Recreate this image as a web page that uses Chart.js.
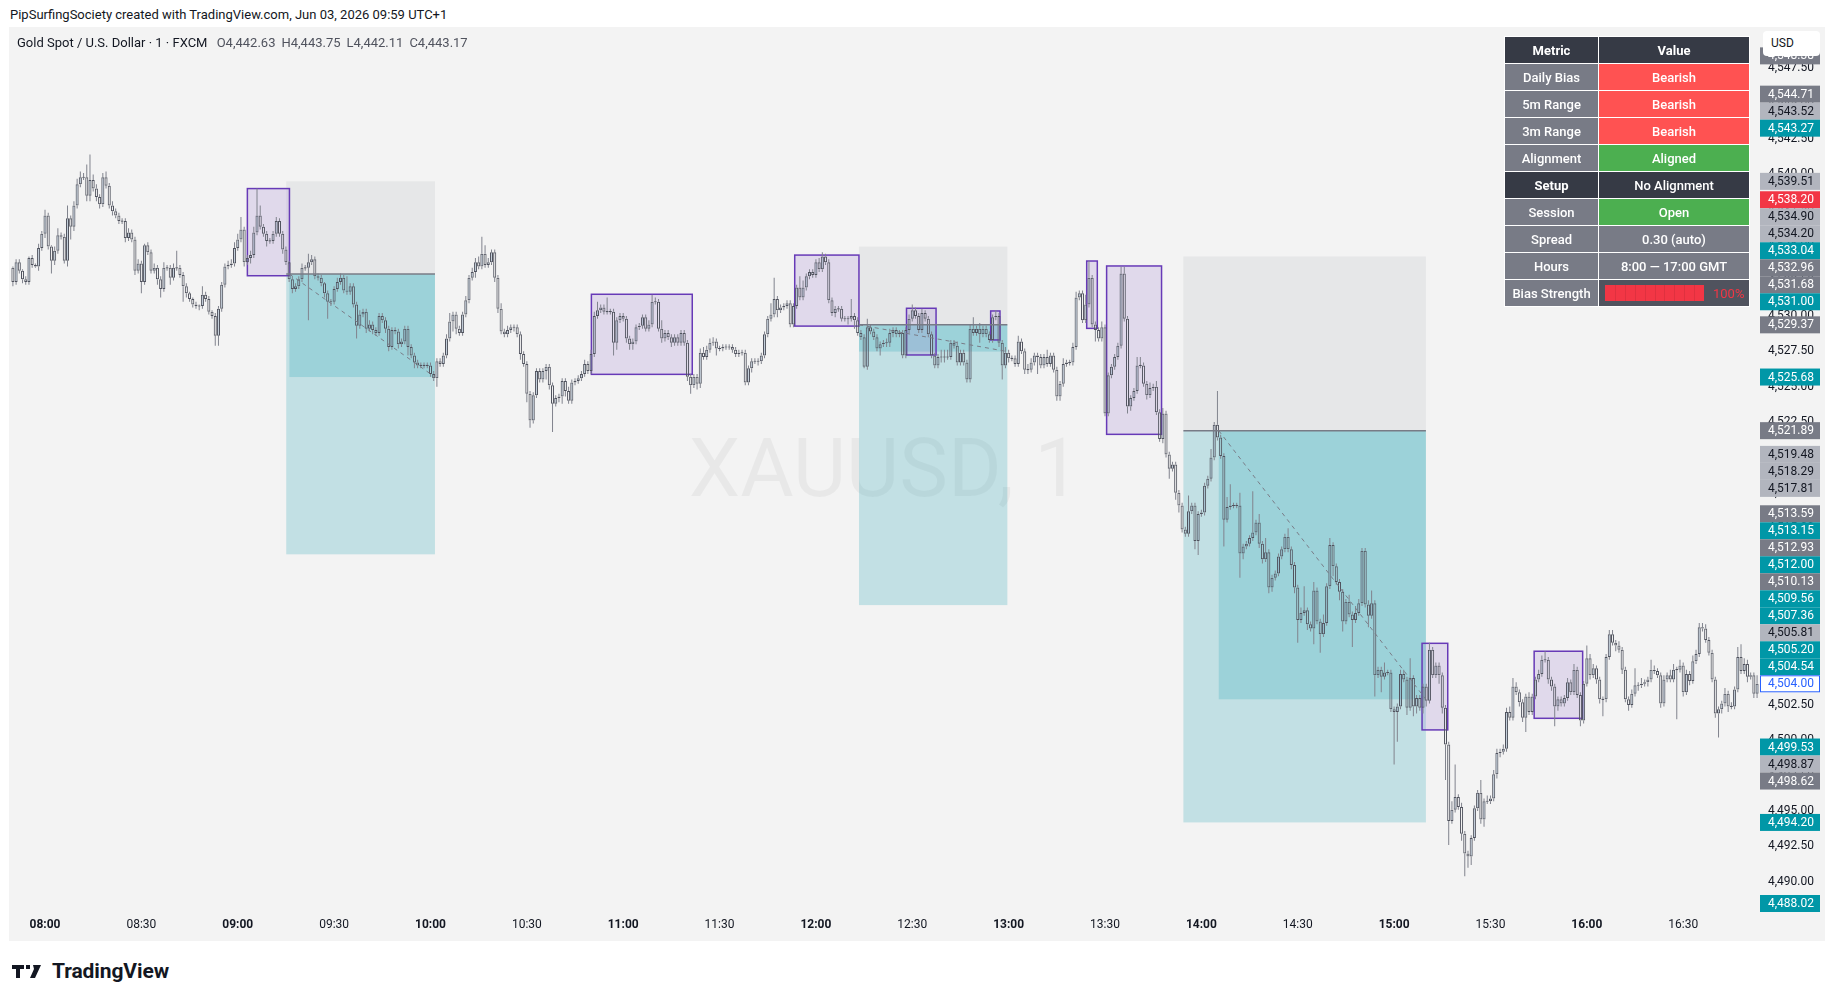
<!DOCTYPE html>
<html>
<head>
<meta charset="utf-8">
<title>XAUUSD 1m</title>
<script src="https://cdn.jsdelivr.net/npm/chart.js@4.4.1/dist/chart.umd.min.js"></script>
<style>
  body { margin: 0; width: 1835px; height: 1000px; background: #fff; position: relative; overflow: hidden;
         font-family: Roboto, "Noto Sans", "DejaVu Sans", sans-serif; color: #131722; }
  #top { position: absolute; left: 10px; top: 6px; font-size: 13px; line-height: 18px; }
  #panel { position: absolute; left: 9px; top: 27px; width: 1816px; height: 914px; background: #f3f3f3; }
  #mark { position: absolute; left: 1px; width: 1749px; top: 398px; text-align: center; font-size: 82px;
          line-height: 86px; color: rgba(0,0,0,0.045); white-space: nowrap; }
  #chart { position: absolute; left: 0; top: 0; }
  #sym { position: absolute; left: 8px; top: 7px; font-size: 13px; line-height: 18px; }
  #sym .v { color: #50535e; margin-left: 6px; }
  #usd { position: absolute; left: 1763px; top: 31px; width: 57px; height: 25px; background: #fff;
         border-radius: 4px; font-size: 12px; line-height: 25px; text-indent: 8px; }
  #tbl { position: absolute; left: 1504px; top: 36px; border-collapse: collapse; font-size: 13px; }
  #tbl th, #tbl td { border: 1px solid #fff; height: 26px; padding: 0; text-align: center; color: #fff; font-weight: 500; }
  #tbl th { background: #363a45; font-weight: bold; }
  #tbl td.k { background: #787b86; width: 93px; }
  #tbl td.g { background: #787b86; width: 150px; }
  #tbl td.bear { background: #ff5252; }
  #tbl td.ok { background: #4caf50; }
  #tbl td.dk { background: #363a45; }
  #tbl td.bs { background: #50535e; text-align: left; }
  .bar { display: inline-block; vertical-align: middle; margin-left: 6px; width: 99px; height: 16px; background: #f23645; position: relative; }
  .bar i { position: absolute; top: 0; bottom: 0; width: 1px; background: rgba(0,0,0,0.08); }
  .pct { display: inline-block; vertical-align: middle; margin-left: 9px; color: #f23645; font-weight: normal; }
  #logo { position: absolute; left: 12px; top: 960px; height: 22px; display: flex; align-items: center; }
  #logo span { font-size: 21px; font-weight: bold; margin-left: 10px; letter-spacing: -0.1px; }
</style>
</head>
<body>
<div id="top">PipSurfingSociety created with TradingView.com, Jun 03, 2026 09:59 UTC+1</div>
<div id="panel">
  <div id="mark">XAUUSD, 1</div>
  <canvas id="chart" width="1816" height="914"></canvas>
  <div id="sym">Gold Spot / U.S. Dollar · 1 · FXCM <span class="v">O4,442.63</span><span class="v">H4,443.75</span><span class="v">L4,442.11</span><span class="v">C4,443.17</span></div>
</div>
<div id="usd">USD</div>
<table id="tbl">
  <tr><th>Metric</th><th>Value</th></tr>
  <tr><td class="k">Daily Bias</td><td class="bear">Bearish</td></tr>
  <tr><td class="k">5m Range</td><td class="bear">Bearish</td></tr>
  <tr><td class="k">3m Range</td><td class="bear">Bearish</td></tr>
  <tr><td class="k">Alignment</td><td class="ok">Aligned</td></tr>
  <tr><th>Setup</th><td class="dk">No Alignment</td></tr>
  <tr><td class="k">Session</td><td class="ok">Open</td></tr>
  <tr><td class="k">Spread</td><td class="g">0.30 (auto)</td></tr>
  <tr><td class="k">Hours</td><td class="g">8:00 — 17:00 GMT</td></tr>
  <tr><td class="k">Bias Strength</td><td class="bs"><span class="bar" id="bsbar"></span><span class="pct">100%</span></td></tr>
</table>
<div id="logo">
  <svg width="30" height="13" viewBox="0 0 30 13"><path d="M0 0h12v4H8v9H4V4H0z M14 0h4v4h-4z M21 0h8l-6 13h-5l4-9z" fill="#131722"/></svg>
  <span>TradingView</span>
</div>

<script>
// one-minute candles, minutes counted from 08:00
const firstMinute = -10;
const firstOpen = 4533.4;

const closes = [
  // 07:50 - 09:18
  4532.4, 4533.8, 4533.2, 4532.6, 4532.4, 4534.1, 4533.6, 4533.5, 4534.8, 4535.8,
  4537.1, 4534.9, 4533.9, 4534.6, 4535.7, 4535.6, 4533.9, 4536.9, 4536.3, 4537.8,
  4539.3, 4539.8, 4539.8, 4538.5, 4539.6, 4539.0, 4538.4, 4537.9, 4539.8, 4539.2,
  4537.8, 4537.4, 4537.1, 4536.7, 4536.7, 4535.5, 4535.9, 4535.4, 4533.2, 4533.7,
  4532.4, 4535.0, 4534.5, 4533.2, 4533.4, 4532.6, 4531.9, 4533.4, 4533.4, 4532.7,
  4533.4, 4533.4, 4532.9, 4532.1, 4531.6, 4531.2, 4530.8, 4530.7, 4530.7, 4531.5,
  4531.2, 4530.3, 4530.0, 4528.6, 4530.5, 4532.2, 4533.5, 4533.6, 4533.7, 4534.8,
  4535.4, 4536.1, 4533.8, 4534.1, 4534.3, 4535.9, 4537.1, 4536.3, 4535.8, 4535.3,
  4535.3, 4535.8, 4536.7, 4535.8, 4534.7, 4533.8, 4532.6, 4531.9, 4532.1,
  // 09:19 - 10:52
  4532.6, 4533.4, 4533.4, 4533.8, 4534.0, 4532.8, 4532.7, 4532.3, 4531.6, 4531.0,
  4531.0, 4531.9, 4532.4, 4532.7, 4531.8, 4531.7, 4532.1, 4530.8, 4529.3, 4530.1,
  4530.3, 4529.1, 4529.4, 4529.0, 4528.8, 4530.0, 4529.7, 4529.1, 4527.8, 4529.0,
  4528.9, 4528.0, 4528.2, 4529.1, 4527.8, 4527.2, 4526.7, 4526.5, 4526.5, 4526.5,
  4526.5, 4525.9, 4525.6, 4526.8, 4526.6, 4527.2, 4528.4, 4529.6, 4530.1, 4529.1,
  4528.8, 4530.1, 4531.1, 4532.7, 4533.1, 4533.8, 4533.5, 4534.4, 4533.6, 4533.8,
  4534.5, 4532.7, 4530.5, 4528.9, 4528.7, 4529.0, 4529.2, 4529.2, 4528.7, 4527.3,
  4526.6, 4524.5, 4522.6, 4524.4, 4526.1, 4525.5, 4526.1, 4526.4, 4525.1, 4523.8,
  4524.2, 4524.3, 4525.4, 4524.7, 4524.0, 4525.3, 4525.4, 4525.6, 4525.9, 4526.6,
  4526.1, 4527.3, 4530.0, 4530.4,
  // 10:53 - 12:25
  4530.6, 4530.3, 4530.3, 4530.3, 4528.1, 4529.7, 4530.0, 4529.8, 4528.4, 4528.0,
  4528.2, 4529.2, 4529.3, 4529.9, 4529.1, 4529.4, 4531.0, 4531.0, 4529.1, 4528.4,
  4528.8, 4528.5, 4528.1, 4528.5, 4528.1, 4528.8, 4528.1, 4525.7, 4525.1, 4525.7,
  4525.2, 4527.4, 4527.1, 4527.6, 4528.1, 4528.2, 4527.7, 4527.7, 4527.8, 4527.8,
  4527.8, 4527.6, 4527.3, 4527.4, 4527.4, 4525.3, 4526.3, 4526.8, 4526.8, 4526.8,
  4527.2, 4528.7, 4529.8, 4530.1, 4531.2, 4530.4, 4530.6, 4530.7, 4530.9, 4529.4,
  4530.7, 4532.0, 4531.3, 4532.0, 4532.8, 4533.1, 4532.9, 4533.8, 4533.3, 4534.2,
  4533.8, 4531.1, 4530.2, 4530.5, 4530.5, 4529.8, 4529.8, 4529.8, 4530.0, 4529.7,
  4528.8, 4528.5, 4526.4, 4529.2, 4528.9, 4528.5, 4527.7, 4528.0, 4528.1, 4528.1,
  4528.8, 4529.0, 4528.7,
  // 12:26 - 13:58
  4528.8, 4527.2, 4529.0, 4529.8, 4530.4, 4530.0, 4529.0, 4530.2, 4529.8, 4528.7,
  4527.2, 4526.5, 4527.1, 4527.1, 4527.1, 4527.1, 4528.1, 4527.9, 4526.7, 4527.4,
  4526.7, 4525.5, 4529.1, 4528.8, 4529.1, 4528.7, 4529.1, 4528.7, 4528.3, 4529.9,
  4530.0, 4528.1, 4526.5, 4527.4, 4527.0, 4527.0, 4526.6, 4528.2, 4527.5, 4526.2,
  4526.2, 4526.7, 4527.2, 4527.1, 4526.5, 4527.1, 4526.6, 4527.2, 4526.2, 4524.3,
  4525.2, 4526.6, 4526.7, 4526.7, 4527.8, 4531.3, 4531.6, 4529.7, 4530.8, 4532.7,
  4529.4, 4529.0, 4528.4, 4529.2, 4523.1, 4525.8, 4526.4, 4527.1, 4527.9, 4533.0,
  4529.8, 4523.6, 4524.2, 4524.7, 4526.5, 4526.5, 4525.2, 4524.4, 4524.9, 4525.0,
  4523.2, 4521.3, 4523.1, 4520.2, 4519.2, 4519.5, 4517.5, 4516.6, 4514.9, 4514.6,
  4516.2, 4516.6, 4514.1,
  // 13:59 - 15:32
  4516.0, 4516.1, 4518.0, 4518.5, 4520.0, 4522.3, 4521.4, 4520.1, 4515.6, 4516.5,
  4516.6, 4516.6, 4516.6, 4513.2, 4513.7, 4513.9, 4514.3, 4514.7, 4515.4, 4513.9,
  4512.8, 4513.3, 4510.8, 4511.5, 4511.8, 4513.0, 4513.5, 4514.4, 4513.5, 4512.4,
  4510.8, 4508.5, 4509.0, 4509.2, 4508.2, 4507.9, 4510.6, 4508.4, 4507.5, 4508.3,
  4510.9, 4513.8, 4512.3, 4511.2, 4510.5, 4508.4, 4509.8, 4508.9, 4508.5, 4509.0,
  4509.7, 4513.4, 4509.6, 4508.8, 4509.7, 4504.6, 4505.0, 4504.5, 4504.8, 4504.8,
  4502.2, 4502.0, 4502.4, 4504.7, 4504.3, 4502.3, 4504.4, 4502.4, 4503.0, 4502.3,
  4503.8, 4502.8, 4506.4, 4504.6, 4505.3, 4504.6, 4502.3, 4499.7, 4494.3, 4495.1,
  4496.0, 4495.3, 4493.4, 4492.0, 4491.8, 4493.1, 4495.2, 4496.3, 4494.4, 4495.7,
  4495.7, 4495.9, 4497.6, 4499.1,
  // 15:33 - 16:53
  4499.2, 4499.4, 4502.0, 4501.6, 4503.8, 4503.4, 4502.7, 4501.6, 4503.1, 4502.0,
  4503.1, 4504.3, 4504.7, 4505.7, 4505.7, 4504.3, 4503.8, 4502.4, 4502.9, 4502.6,
  4503.0, 4504.1, 4503.4, 4505.0, 4503.2, 4501.4, 4504.0, 4505.8, 4504.6, 4505.1,
  4504.3, 4502.9, 4502.9, 4505.9, 4507.5, 4506.9, 4506.7, 4506.4, 4505.0, 4502.9,
  4502.5, 4503.3, 4503.9, 4503.9, 4504.0, 4504.1, 4504.3, 4505.0, 4504.9, 4504.6,
  4502.6, 4504.3, 4504.6, 4504.3, 4505.0, 4505.0, 4505.3, 4503.4, 4504.7, 4504.2,
  4505.6, 4506.1, 4508.0, 4507.9, 4507.1, 4506.2, 4504.3, 4501.9, 4502.2, 4502.6,
  4503.3, 4502.4, 4502.4, 4503.6, 4505.9, 4504.9, 4505.4, 4504.5, 4504.6, 4503.3,
  4504.0
];

// wick lengths above / below the body, in tenths of a dollar
const wickUp = [
  1,2,2,1,2,1,2,1,3,2, 4,2,1,3,5,2,2,9,2,3, 4,4,3,9,18,4,3,2,3,4, 2,3,2,2,2,2,3,2,2,3,
  2,1,2,2,3,2,2,4,2,2, 3,12,2,2,2,1,1,2,1,6, 2,2,1,2,2,2,2,3,3,4, 4,9,2,2,3,4,19,7,2,2,
  2,2,3,2,2,2,1,2,2,
  2,3,2,6,3,2,2,2,1,2, 2,2,3,3,2,10,2,2,2,3, 2,2,3,2,2,2,2,2,2,2, 2,2,2,2,2,2,2,2,2,2,
  2,2,2,2,2,2,3,6,2,2, 2,2,3,2,3,3,4,12,6,3, 2,2,2,4,2,3,2,2,2,2, 2,2,2,2,2,2,2,2,2,2,
  2,2,2,2,3,2,2,2,2,3, 2,3,3,6,
  2,2,10,2,2,2,2,2,2,2, 2,2,2,2,2,3,5,3,2,6, 2,2,2,2,2,2,2,2,2,2, 2,3,4,3,3,3,2,2,2,2,
  2,2,2,2,2,2,2,2,2,2, 2,2,2,8,15,2,2,2,2,2, 2,2,8,5,2,2,2,2,3,3, 2,2,2,2,2,2,2,2,12,2,
  2,2,2,6,2,2,2,2,2,3, 3,2,2,
  2,2,2,3,4,2,2,3,2,2, 2,2,2,5,5,5,2,2,3,2, 2,2,3,8,2,4,2,2,2,2, 4,2,2,4,2,2,2,4,2,2,
  4,3,2,2,2,2,5,2,2,2, 2,4,2,2,3,4,2,2,7,12, 2,2,2,4,2,2,2,2,2,5, 5,2,2,2,6,6,2,2,4,2,
  4,2,4,2,2,2,2,2,2,2, 11,2,2,
  2,2,2,2,6,2,24,2,2,7, 15,2,2,9,2,2,2,29,2,6, 2,10,2,2,2,2,2,2,6,2, 2,2,4,17,2,2,6,2,2,6,
  2,5,2,2,2,2,2,5,2,5, 3,2,2,3,9,2,2,2,7,2, 2,2,2,3,3,2,14,2,2,2, 2,2,5,2,2,2,2,2,2,6,
  23,2,3,2,2,2,2,2,9,2, 4,2,3,3,
  2,3,3,4,6,3,2,2,2,3, 2,2,3,3,6,2,2,2,2,2, 2,3,2,4,2,2,2,9,3,3, 2,2,2,2,3,3,2,3,2,2,
  2,3,12,2,4,2,2,7,3,2, 2,3,2,4,4,2,4,2,3,2, 4,3,3,3,3,2,2,2,2,2, 4,2,3,2,7,9,4,3,2,2,
  6
];
const wickDown = [
  3,2,2,3,2,2,2,1,3,2, 3,2,9,3,2,2,2,4,9,3, 2,2,2,4,4,2,3,3,2,2, 2,3,2,2,2,3,2,2,3,2,
  8,2,2,2,2,4,6,2,2,5, 2,2,2,11,3,2,2,2,3,2, 2,2,2,7,7,2,2,2,2,2, 2,2,3,2,4,2,2,2,2,4,
  2,2,2,2,3,2,2,3,2,
  2,2,2,37,2,2,2,2,3,12, 3,2,2,2,2,2,2,2,9,2, 2,3,2,3,2,2,2,3,3,2, 2,3,2,2,6,2,4,2,2,2,
  2,2,2,6,2,2,2,2,7,4, 2,2,2,2,2,4,2,2,2,2, 2,3,3,2,2,2,2,3,2,4, 2,6,5,2,2,2,2,6,3,20,
  2,3,5,4,2,2,2,2,2,2, 2,2,2,2,
  2,2,2,2,9,5,2,2,3,4, 4,2,2,2,2,2,2,2,2,3, 2,2,3,2,2,2,2,3,6,2, 4,3,2,2,2,2,5,2,2,2,
  2,2,2,2,2,2,2,3,2,3, 2,2,2,2,2,5,2,2,2,2, 2,2,2,2,2,2,2,2,2,2, 2,2,2,3,2,2,2,4,2,6,
  2,2,1,2,2,2,2,5,2,3, 3,3,2,
  2,2,2,2,2,2,2,2,2,2, 2,2,2,4,4,2,2,2,2,2, 2,2,2,2,2,6,2,2,2,2, 2,3,10,2,3,2,2,2,2,3,
  3,2,2,12,2,2,2,2,2,3, 3,2,2,2,2,2,2,2,2,2, 2,8,2,2,2,2,2,2,2,2, 2,5,3,2,2,2,2,3,2,2,
  2,2,3,2,7,2,5,5,2,2, 2,2,6,
  10,2,2,2,2,2,2,2,19,2, 2,2,2,17,4,2,2,2,2,3, 3,2,4,3,2,2,2,2,2,3, 4,16,2,2,4,2,11,2,13,2,
  2,2,7,2,6,7,2,2,19,2, 2,2,2,8,2,15,2,11,2,2, 2,37,21,2,2,5,2,7,5,2, 4,4,2,2,2,6,4,25,17,2,
  2,2,5,16,8,6,2,2,3,5, 2,2,2,3,
  3,2,2,2,2,2,3,3,10,2, 2,2,2,2,2,3,3,14,3,2, 2,2,2,2,2,4,2,2,3,2, 3,3,12,2,2,2,4,2,3,2,
  4,2,2,4,2,2,3,2,2,2, 3,2,2,2,2,35,2,3,2,3, 2,2,2,2,2,2,2,3,17,3, 2,4,2,2,2,2,2,4,2,3,
  3
];

const timeTicks = [0, 30, 60, 90, 120, 150, 180, 210, 240, 270, 300, 330, 360, 390, 420, 450, 480, 510];
const timeLabels = ['08:00', '08:30', '09:00', '09:30', '10:00', '10:30', '11:00', '11:30', '12:00',
                    '12:30', '13:00', '13:30', '14:00', '14:30', '15:00', '15:30', '16:00', '16:30'];
const priceTicks = [4490, 4492.5, 4495, 4497.5, 4500, 4502.5, 4505, 4507.5, 4510, 4512.5, 4515, 4517.5,
                    4520, 4522.5, 4525, 4527.5, 4530, 4532.5, 4535, 4537.5, 4540, 4542.5, 4545, 4547.5];

// purple range boxes (minute from, minute to, top, bottom)
const boxFrom = [63, 170.1, 233.4, 268.2, 294.4, 324.3, 330.5, 428.7, 463.6];
const boxTo   = [76.1, 201.5, 253.4, 277.4, 297.3, 327.6, 347.6, 436.7, 478.7];
const boxHigh = [4539.0, 4531.53, 4534.3, 4530.54, 4530.35, 4533.88, 4533.53, 4506.86, 4506.3];
const boxLow  = [4532.84, 4525.87, 4529.28, 4527.24, 4528.3, 4529.12, 4521.63, 4500.74, 4501.56];

// short position tools
const posStart  = [75.1, 253.4, 354.4];
const posFill   = [76.1, 253.4, 365.4];
const posEnd    = [121.4, 299.6, 429.9];
const posEntry  = [4532.96, 4529.37, 4521.89];
const posStop   = [4539.51, 4534.90, 4534.20];
const posTarget = [4513.15, 4509.56, 4494.20];
const posReach  = [4525.68, 4527.48, 4502.90];

// price scale markers
const labelPrices = [4548.38, 4544.71, 4543.52, 4543.27, 4539.51, 4538.20, 4534.90, 4534.20, 4533.04, 4532.96,
                     4531.68, 4531.00, 4529.37, 4525.68, 4521.89, 4519.48, 4518.29, 4517.81, 4513.59, 4513.15,
                     4512.93, 4512.00, 4510.13, 4509.56, 4507.36, 4505.81, 4505.20, 4504.54, 4504.00, 4499.53,
                     4498.87, 4498.62, 4494.20, 4488.02];
const labelKinds = ['dark', 'dark', 'light', 'teal', 'light', 'red', 'light', 'light', 'teal', 'dark',
                    'dark', 'teal', 'dark', 'teal', 'dark', 'light', 'light', 'light', 'dark', 'teal',
                    'dark', 'teal', 'dark', 'teal', 'teal', 'light', 'teal', 'teal', 'current', 'teal',
                    'light', 'dark', 'teal', 'teal'];

// bias strength segments
const bsbar = document.getElementById('bsbar');
for (let i = 1; i < 10; i++) {
  const s = document.createElement('i');
  s.style.left = (i * 9.9) + 'px';
  bsbar.appendChild(s);
}

const candles = closes.map((c, i) => {
  const o = i ? closes[i - 1] : firstOpen;
  const top = Math.max(o, c), bot = Math.min(o, c);
  return { t: firstMinute + i, o, c, top, bot, h: top + wickUp[i] / 10, l: bot - wickDown[i] / 10 };
});

const bodies = candles.map(k => {
  const mid = (k.top + k.bot) / 2;
  const y = k.top - k.bot < 0.08 ? [mid - 0.04, mid + 0.04] : [k.bot, k.top];
  return { x: k.t, y };
});
const bodyFill = candles.map(k => k.c >= k.o ? 'rgba(140,165,188,0.45)' : 'rgba(243,243,243,0.15)');
const upper = candles.map(k => ({ x: k.t, y: [k.top, k.h] }));
const lower = candles.map(k => ({ x: k.t, y: [k.l, k.bot] }));

const labelStyle = {
  dark:    { bg: '#787b86', fg: '#ffffff' },
  light:   { bg: '#b2b5be', fg: '#131722' },
  teal:    { bg: '#0097a7', fg: '#ffffff' },
  red:     { bg: '#f23645', fg: '#ffffff' },
  current: { bg: '#ffffff', fg: '#2962ff', line: '#2962ff' }
};

const fmt = v => v.toLocaleString('en-US', { minimumFractionDigits: 2, maximumFractionDigits: 2 });

const drawings = {
  id: 'drawings',
  beforeDatasetsDraw(chart) {
    const { ctx, chartArea: a, scales: { x, y } } = chart;
    ctx.save();
    ctx.beginPath();
    ctx.rect(a.left, a.top, a.right - a.left, a.bottom - a.top);
    ctx.clip();
    for (let i = 0; i < posStart.length; i++) {
      const x0 = x.getPixelForValue(posStart[i]);
      const x1 = x.getPixelForValue(posEnd[i]);
      const xf = x.getPixelForValue(posFill[i]);
      const yE = y.getPixelForValue(posEntry[i]);
      const yS = y.getPixelForValue(posStop[i]);
      const yT = y.getPixelForValue(posTarget[i]);
      const yR = y.getPixelForValue(posReach[i]);
      ctx.fillStyle = 'rgba(120,123,134,0.1)';
      ctx.fillRect(x0, yS, x1 - x0, yE - yS);
      ctx.fillStyle = 'rgba(0,150,170,0.2)';
      ctx.fillRect(x0, yE, x1 - x0, yT - yE);
      ctx.fillRect(xf, yE, x1 - xf, yR - yE);
    }
    for (let i = 0; i < boxFrom.length; i++) {
      const x0 = x.getPixelForValue(boxFrom[i]);
      const x1 = x.getPixelForValue(boxTo[i]);
      const y0 = y.getPixelForValue(boxHigh[i]);
      const y1 = y.getPixelForValue(boxLow[i]);
      ctx.fillStyle = 'rgba(149,117,205,0.2)';
      ctx.fillRect(x0, y0, x1 - x0, y1 - y0);
      ctx.strokeStyle = '#673ab7';
      ctx.lineWidth = 1.5;
      ctx.strokeRect(x0, y0, x1 - x0, y1 - y0);
    }
    ctx.restore();
  },
  afterDatasetsDraw(chart) {
    const { ctx, scales: { x, y } } = chart;
    ctx.save();
    for (let i = 0; i < posStart.length; i++) {
      const x0 = x.getPixelForValue(posStart[i]);
      const x1 = x.getPixelForValue(posEnd[i]);
      const xf = x.getPixelForValue(posFill[i]);
      const yE = y.getPixelForValue(posEntry[i]);
      const yR = y.getPixelForValue(posReach[i]);
      ctx.strokeStyle = '#787b86';
      ctx.lineWidth = 1.5;
      ctx.setLineDash([]);
      ctx.beginPath();
      ctx.moveTo(x0, yE);
      ctx.lineTo(x1, yE);
      ctx.stroke();
      ctx.lineWidth = 1;
      ctx.setLineDash([4, 4]);
      ctx.beginPath();
      ctx.moveTo(xf, yE);
      ctx.lineTo(x1, yR);
      ctx.stroke();
    }
    ctx.restore();
  },
  afterDraw(chart) {
    const { ctx, chartArea: a, scales: { y } } = chart;
    const h = 17;
    const cur = labelKinds.indexOf('current');
    const pos = labelPrices.map(p => y.getPixelForValue(p));
    for (let i = cur - 1; i >= 0; i--) pos[i] = Math.min(pos[i], pos[i + 1] - h);
    for (let i = cur + 1; i < pos.length; i++) pos[i] = Math.max(pos[i], pos[i - 1] + h);
    ctx.save();
    ctx.font = '12px Roboto, "Noto Sans", sans-serif';
    ctx.textBaseline = 'middle';
    ctx.textAlign = 'left';
    const left = a.right + 1;
    labelPrices.forEach((p, i) => {
      const st = labelStyle[labelKinds[i]];
      const cy = Math.min(pos[i], a.bottom - h / 2);
      ctx.fillStyle = st.bg;
      ctx.fillRect(left, cy - h / 2, 60, h);
      if (st.line) {
        ctx.strokeStyle = st.line;
        ctx.lineWidth = 1;
        ctx.strokeRect(left + 0.5, cy - h / 2 + 0.5, 59, h - 1);
      }
      ctx.fillStyle = st.fg;
      ctx.fillText(fmt(p), left + 8, cy + 0.5);
    });
    ctx.restore();
  }
};

new Chart(document.getElementById('chart'), {
  type: 'bar',
  data: {
    datasets: [
      { data: bodies, backgroundColor: bodyFill, borderColor: '#50535e', borderWidth: 1,
        borderSkipped: false, grouped: false, barPercentage: 0.95, categoryPercentage: 1, inflateAmount: 0 },
      { data: upper, backgroundColor: '#80838d', borderWidth: 0, grouped: false, barThickness: 1, inflateAmount: 0 },
      { data: lower, backgroundColor: '#80838d', borderWidth: 0, grouped: false, barThickness: 1, inflateAmount: 0 }
    ]
  },
  options: {
    responsive: false,
    animation: false,
    devicePixelRatio: 1,
    layout: { padding: { left: 1, right: 0, top: 0, bottom: 0 } },
    plugins: { legend: { display: false }, tooltip: { enabled: false } },
    scales: {
      x: {
        type: 'linear',
        offset: false,
        min: -10.9,
        max: 533.6,
        grid: { display: false, drawTicks: false },
        border: { display: false },
        afterBuildTicks: s => { s.ticks = timeTicks.map(v => ({ value: v })); },
        afterFit: s => { s.height = 29; s.paddingLeft = 0; s.paddingRight = 0; },
        ticks: {
          autoSkip: false,
          maxRotation: 0,
          padding: 6,
          color: '#131722',
          font: c => ({ family: 'Roboto, "Noto Sans", sans-serif', size: 12,
                        weight: c.tick && c.tick.value % 60 === 0 ? 'bold' : 'normal' }),
          callback: v => timeLabels[timeTicks.indexOf(v)]
        }
      },
      y: {
        position: 'right',
        min: 4487.87,
        max: 4550.42,
        grid: { display: false, drawTicks: false },
        border: { display: false },
        afterBuildTicks: s => { s.ticks = priceTicks.map(v => ({ value: v })); },
        afterFit: s => { s.width = 66; s.paddingTop = 0; s.paddingBottom = 0; },
        ticks: {
          padding: 9,
          color: '#131722',
          font: { family: 'Roboto, "Noto Sans", sans-serif', size: 12 },
          callback: v => fmt(v)
        }
      }
    }
  },
  plugins: [drawings]
});
</script>
</body>
</html>
